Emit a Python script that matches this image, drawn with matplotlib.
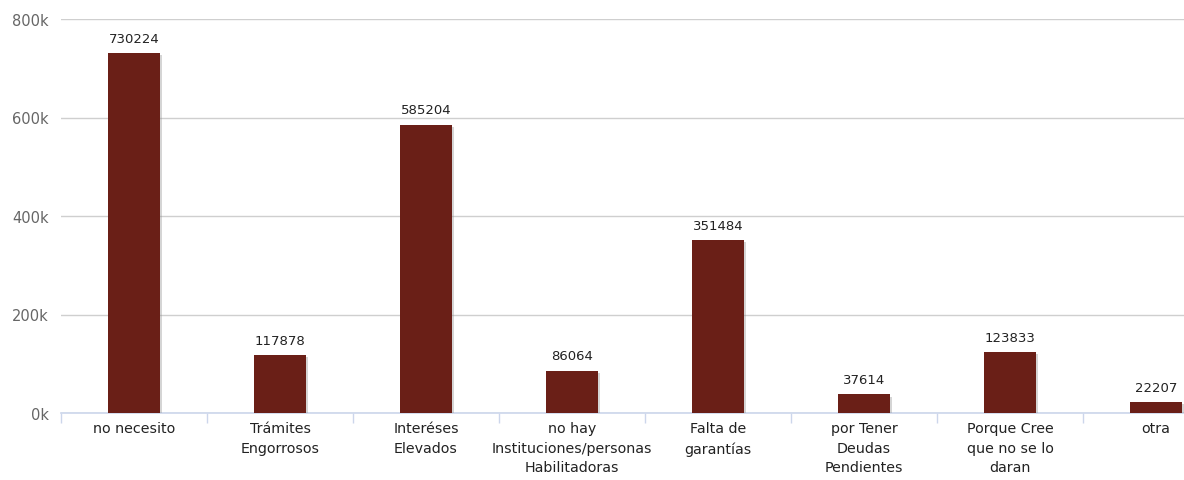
import matplotlib.pyplot as plt
import matplotlib.patheffects as pe
import numpy as np

# reasons for not requesting credit, respondent counts
categories = [
    "no necesito",
    "Trámites\nEngorrosos",
    "Interéses\nElevados",
    "no hay\nInstituciones/personas\nHabilitadoras",
    "Falta de\ngarantías",
    "por Tener\nDeudas\nPendientes",
    "Porque Cree\nque no se lo\ndaran",
    "otra",
]
counts = [730224, 117878, 585204, 86064, 351484, 37614, 123833, 22207]
y_ticks = [0, 200000, 400000, 600000, 800000]
y_tick_labels = ["0k", "200k", "400k", "600k", "800k"]

bar_color = "#6a1f17"
grid_color = "#cfcfcf"
axis_color = "#ccd6eb"

W, H = 1184, 481
fig = plt.figure(figsize=(W / 100, H / 100), dpi=100)
# plot area runs a little past the right edge of the figure
left, cat_w = 61, 146
ax = fig.add_axes([left / W, 67 / H, 8 * cat_w / W, 394 / H])

x = np.arange(len(categories))
ax.bar(x, counts, width=0.35, color=bar_color, zorder=3,
       path_effects=[pe.SimplePatchShadow(offset=(1.5, -1.5), shadow_rgbFace="#888888", alpha=0.35),
                     pe.Normal()])

for xi, v in zip(x, counts):
    ax.annotate(str(v), (xi, v), xytext=(0, 6), textcoords="offset points",
                ha="center", va="bottom", fontsize=9.5, color="#222222")

ax.set_xlim(-0.5, len(categories) - 0.5)
ax.set_ylim(0, 800000)
ax.set_yticks(y_ticks)
ax.set_yticklabels(y_tick_labels, fontsize=10.5, color="#666666")
ax.yaxis.grid(True, color=grid_color, linewidth=1, zorder=0)
ax.tick_params(axis="y", length=0, pad=9)

# category labels sit under the bars, tick marks between categories
ax.set_xticks(x)
ax.set_xticklabels(categories, fontsize=10.3, color="#222222", linespacing=1.5, va="top")
ax.tick_params(axis="x", length=0, pad=6)
ax.set_xticks(np.arange(len(categories) + 1) - 0.5, minor=True)
ax.tick_params(axis="x", which="minor", length=7, color=axis_color, width=1)

for side in ["top", "right", "left"]:
    ax.spines[side].set_visible(False)
ax.spines["bottom"].set_color(axis_color)
ax.spines["bottom"].set_linewidth(1.2)

fig.savefig("out.png", dpi=100)
